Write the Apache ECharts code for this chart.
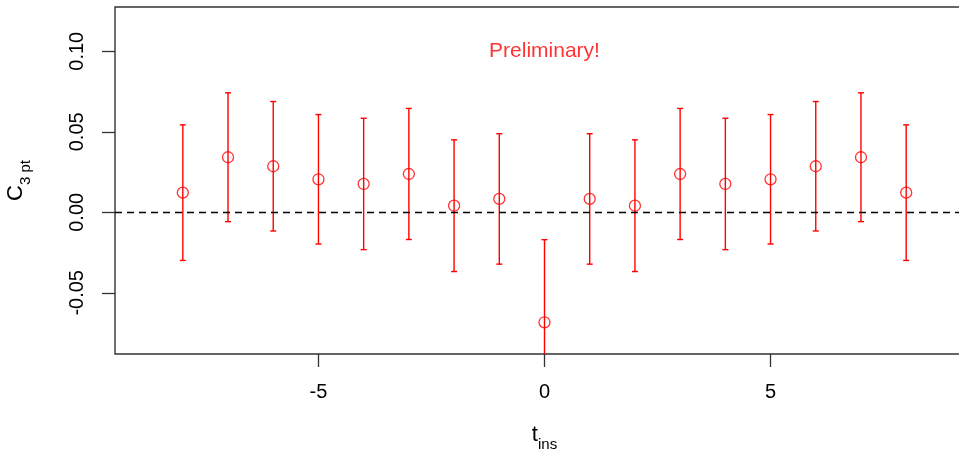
<!DOCTYPE html>
<html>
<head>
<meta charset="utf-8">
<title>C3pt vs t_ins</title>
<script src="https://cdn.jsdelivr.net/npm/echarts@6/dist/echarts.min.js"></script>
<style>
  html, body { margin: 0; padding: 0; background: #fff; }
  #chart { width: 959px; height: 454px; }
</style>
</head>
<body>
<div id="chart"></div>
<script>
// insertion times
const tIns = [-8, -7, -6, -5, -4, -3, -2, -1, 0, 1, 2, 3, 4, 5, 6, 7, 8];
// three-point correlator, central values
const c3pt = [0.0122, 0.0342, 0.0286, 0.0205, 0.0176, 0.0238, 0.0041, 0.0083, -0.0683,
              0.0083, 0.0041, 0.0238, 0.0176, 0.0205, 0.0286, 0.0342, 0.0122];
// statistical errors
const c3ptErr = [0.0421, 0.0400, 0.0402, 0.0402, 0.0408, 0.0407, 0.0409, 0.0405, 0.0513,
                 0.0405, 0.0409, 0.0407, 0.0408, 0.0402, 0.0402, 0.0400, 0.0421];
// tick labels
const xTicks = [-5, 0, 5];
const yTicks = [-0.05, 0.00, 0.05, 0.10];

const RED = '#ff0000';
const FONT = '"Liberation Sans", Arial, Helvetica, sans-serif';

const points = tIns.map((t, i) => [t, c3pt[i]]);
const bars = tIns.map((t, i) => [t, c3pt[i] - c3ptErr[i], c3pt[i] + c3ptErr[i]]);

const chart = echarts.init(document.getElementById('chart'), null, { renderer: 'canvas' });

const subscriptRich = {
  m: { fontSize: 22, fontFamily: FONT, color: '#000', padding: [0, 0, 6, 0], verticalAlign: 'bottom' },
  s: { fontSize: 15, fontFamily: FONT, color: '#000', verticalAlign: 'bottom' }
};

chart.setOption({
  animation: false,
  backgroundColor: '#fff',
  grid: {
    left: 115, top: 7, right: -15, bottom: 100,
    outerBoundsMode: 'none',
    containLabel: false,
    show: true, borderColor: '#333', borderWidth: 1.4, backgroundColor: 'transparent'
  },
  xAxis: {
    type: 'value', min: -9.5, max: 9.5,
    axisLine: { show: false, onZero: false },
    splitLine: { show: false },
    axisTick: { show: true, customValues: xTicks, length: 13, lineStyle: { color: '#333', width: 1.3 } },
    axisLabel: { show: true, customValues: xTicks, margin: 28, fontSize: 20, color: '#000', fontFamily: FONT },
    name: '{m|t}{s|ins}',
    nameLocation: 'middle', nameGap: 70,
    nameTextStyle: { rich: subscriptRich }
  },
  yAxis: {
    type: 'value', min: -0.088, max: 0.1275,
    axisLine: { show: false, onZero: false },
    splitLine: { show: false },
    axisTick: { show: true, customValues: yTicks, length: 13, lineStyle: { color: '#333', width: 1.3 } },
    axisLabel: {
      show: true, customValues: yTicks, rotate: 90, margin: 28, fontSize: 20, color: '#000', fontFamily: FONT,
      formatter: v => v.toFixed(2)
    },
    name: '{m|C}{s|3 pt}',
    nameLocation: 'middle', nameRotate: 90, nameGap: 82,
    nameTextStyle: { rich: subscriptRich }
  },
  series: [
    {
      // error bars with caps
      type: 'custom',
      clip: true,
      data: bars,
      z: 2,
      renderItem: (params, api) => {
        const t = api.value(0);
        const lo = api.coord([t, api.value(1)]);
        const hi = api.coord([t, api.value(2)]);
        const cap = 3;
        const style = { stroke: RED, lineWidth: 1.4 };
        return {
          type: 'group',
          children: [
            { type: 'line', shape: { x1: lo[0], y1: lo[1], x2: hi[0], y2: hi[1] }, style },
            { type: 'line', shape: { x1: hi[0] - cap, y1: hi[1], x2: hi[0] + cap, y2: hi[1] }, style },
            { type: 'line', shape: { x1: lo[0] - cap, y1: lo[1], x2: lo[0] + cap, y2: lo[1] }, style }
          ]
        };
      }
    },
    {
      // central values as open circles, plus zero reference line
      type: 'scatter',
      data: points,
      z: 3,
      symbol: 'circle',
      symbolSize: 11,
      itemStyle: { color: 'transparent', borderColor: RED, borderWidth: 1.3 },
      markLine: {
        silent: true,
        symbol: 'none',
        label: { show: false },
        lineStyle: { color: '#000', type: [7, 5], width: 1.3 },
        data: [{ yAxis: 0 }]
      }
    },
    {
      // watermark note
      type: 'scatter',
      data: [[0, 0.1]],
      symbolSize: 0,
      silent: true,
      label: {
        show: true, position: 'inside', formatter: 'Preliminary!',
        color: RED, fontSize: 21, fontFamily: FONT
      }
    }
  ]
});
</script>
</body>
</html>
